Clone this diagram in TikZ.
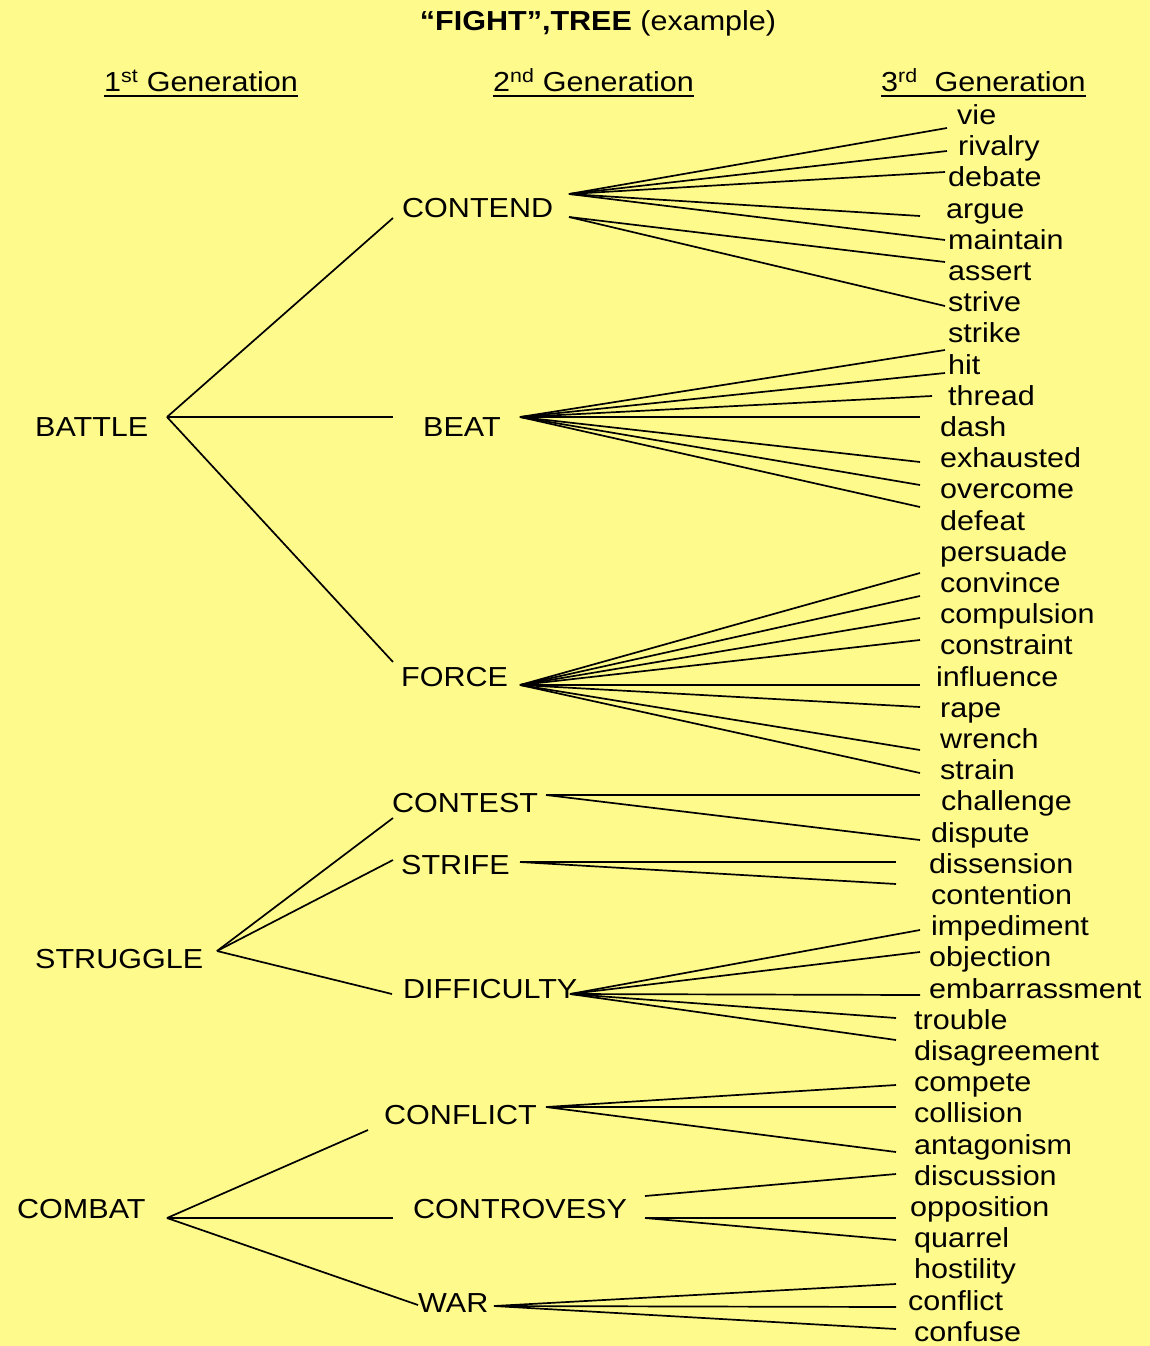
\documentclass[tikz,border=0pt]{standalone}
\usepackage{fontspec}
\setmainfont{Liberation Sans}[FakeStretch=1.11]
\definecolor{paper}{RGB}{255,250,140}

\begin{document}
\begin{tikzpicture}[x=1pt,y=-1pt,
    word/.style={anchor=base west,inner sep=0pt,font=\fontsize{27.5}{32}\selectfont},
    link/.style={line width=1.7pt}]
  \fill[paper] (0,0) rectangle (1150,1346);
  \useasboundingbox (0,0) rectangle (1150,1346);

  % heading
  \node[word,anchor=base] (title) at (598,31) {\textbf{“FIGHT”,TREE} (example)};
  \node[word] (gen1) at (104,92) {1\textsuperscript{st} Generation};
  \node[word] (gen2) at (493,92) {2\textsuperscript{nd} Generation};
  \node[word] (gen3) at (881,92) {3\textsuperscript{rd}\ \ Generation};
  \foreach \g in {gen1,gen2,gen3}
    \draw[line width=1.8pt] ([yshift=-4pt]\g.base west) -- ([yshift=-4pt]\g.base east);

  % 1st and 2nd generation
  \node[word] (battle)   at (35,436)   {BATTLE};
  \node[word] (struggle) at (35,968)   {STRUGGLE};
  \node[word] (combat)   at (17,1218)  {COMBAT};
  \node[word] (contend)  at (402,217)  {CONTEND};
  \node[word] (beat)     at (423,436)  {BEAT};
  \node[word] (force)    at (401,686)  {FORCE};
  \node[word] (contest)  at (392,812)  {CONTEST};
  \node[word] (strife)   at (401,874)  {STRIFE};
  \node[word] (difficulty) at (403,998) {DIFFICULTY};
  \node[word] (conflict2)  at (384,1124) {CONFLICT};
  \node[word] (controvesy) at (413,1218) {CONTROVESY};
  \node[word] (war)      at (418,1312) {WAR};

  % fan points
  \coordinate (battle-f)   at (167,417);
  \coordinate (struggle-f) at (217,951);
  \coordinate (combat-f)   at (167,1218);
  \coordinate (contend-f)  at (569,194);
  \coordinate (contend-g)  at (569,217);
  \coordinate (beat-f)     at (520,417);
  \coordinate (force-f)    at (520,685);
  \coordinate (contest-f)  at (546,795);
  \coordinate (strife-f)   at (520,862);
  \coordinate (difficulty-f) at (570,994);
  \coordinate (conflict2-f)  at (546,1107);
  \coordinate (controvesy-f) at (645,1196);
  \coordinate (controvesy-g) at (645,1218);
  \coordinate (war-f)      at (494,1306);

  \foreach \f/\n/\ex/\ey in {battle/contend/393/218, battle/beat/393/417,
      battle/force/393/662, struggle/contest/393/818, struggle/strife/393/860,
      struggle/difficulty/392/994, combat/conflict2/368/1130,
      combat/controvesy/393/1218, combat/war/418/1305}
  {
    \coordinate (to-\n) at (\ex,\ey);
    \draw[link] (\f-f) -- (to-\n);
  }

  % 3rd generation
  \foreach \w/\x/\y in {vie/957/124, rivalry/958/155, debate/948/186,
      argue/946/218, maintain/948/249, assert/948/280, strive/948/311,
      strike/948/342, hit/948/374, thread/948/405, dash/940/436,
      exhausted/940/467, overcome/940/498, defeat/940/530,
      persuade/940/561, convince/940/592, compulsion/940/623,
      constraint/940/654, influence/936/686, rape/940/717, wrench/940/748,
      strain/940/779, challenge/941/810, dispute/931/842,
      dissension/929/873, contention/931/904, impediment/931/935,
      objection/929/966, embarrassment/929/998, trouble/914/1029,
      disagreement/914/1060, compete/914/1091, collision/914/1122,
      antagonism/914/1154, discussion/914/1185, opposition/910/1216,
      quarrel/914/1247, hostility/914/1278, conflict/908/1310,
      confuse/914/1341}
    \node[word] (w-\w) at (\x,\y) {\w};

  \foreach \f/\w/\ex/\ey in {contend-f/vie/947/128, contend-f/rivalry/947/151,
      contend-f/debate/945/172, contend-f/argue/920/216,
      contend-f/maintain/945/240, contend-g/assert/945/262,
      contend-g/strive/945/306, beat-f/strike/945/350, beat-f/hit/945/373,
      beat-f/thread/932/396, beat-f/dash/920/417, beat-f/exhausted/920/462,
      beat-f/overcome/920/485, beat-f/defeat/920/507,
      force-f/persuade/920/573, force-f/convince/920/596,
      force-f/compulsion/920/618, force-f/constraint/920/640,
      force-f/influence/920/685, force-f/rape/920/707,
      force-f/wrench/920/750, force-f/strain/920/773,
      contest-f/challenge/920/795, contest-f/dispute/920/840,
      strife-f/dissension/896/862, strife-f/contention/896/884,
      difficulty-f/impediment/920/930, difficulty-f/objection/920/952,
      difficulty-f/embarrassment/920/995, difficulty-f/trouble/896/1018,
      difficulty-f/disagreement/896/1040, conflict2-f/compete/896/1085,
      conflict2-f/collision/896/1107, conflict2-f/antagonism/896/1152,
      controvesy-f/discussion/896/1174, controvesy-g/opposition/896/1218,
      controvesy-g/quarrel/896/1240, war-f/hostility/896/1284,
      war-f/conflict/896/1307, war-f/confuse/896/1329}
  {
    \coordinate (to-\w) at (\ex,\ey);
    \draw[link] (\f) -- (to-\w);
  }
\end{tikzpicture}
\end{document}
